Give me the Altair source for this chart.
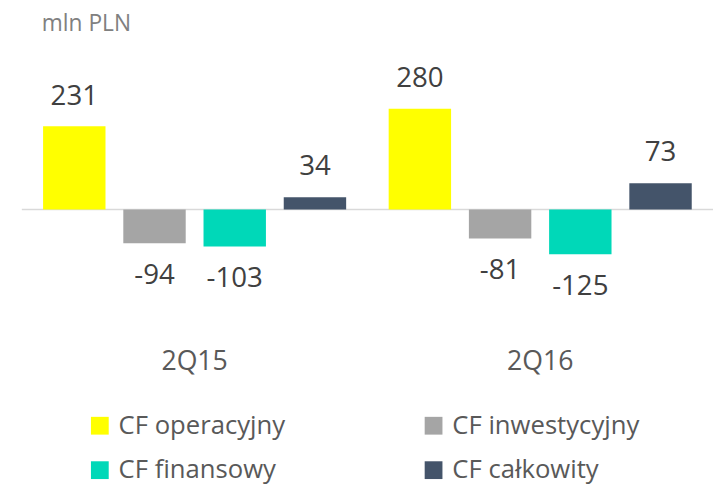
import altair as alt
import pandas as pd

periods = ["2Q15", "2Q15", "2Q15", "2Q15", "2Q16", "2Q16", "2Q16", "2Q16"]
series = ["CF operacyjny", "CF inwestycyjny", "CF finansowy", "CF całkowity"] * 2
values = [231, -94, -103, 34, 280, -81, -125, 73]
labels = ["231", "-94", "-103", "34", "280", "-81", "-125", "73"]

series_order = ["CF operacyjny", "CF inwestycyjny", "CF finansowy", "CF całkowity"]
colors = ["#FFFF00", "#A5A5A5", "#00D8B8", "#44546A"]
baseline = [0]

df = pd.DataFrame({"period": periods, "series": series, "value": values, "label": labels})
base_df = pd.DataFrame({"value": baseline})

FONT = "Open Sans"
ydom = [-305, 409]
W = 700

x = alt.X("period:N", title=None, sort=["2Q15", "2Q16"],
          scale=alt.Scale(paddingInner=0, paddingOuter=0),
          axis=alt.Axis(domain=False, ticks=False, labelAngle=0, labelFontSize=27,
                        labelColor="#595959", labelFont=FONT, labelPadding=30))
xo = alt.XOffset("series:N", sort=series_order,
                 scale=alt.Scale(paddingInner=0.222, paddingOuter=0.265))
y = alt.Y("value:Q", axis=None, scale=alt.Scale(domain=ydom, nice=False, zero=True))

bars = alt.Chart(df).mark_bar().encode(
    x=x, xOffset=xo, y=y,
    color=alt.Color("series:N", sort=series_order,
                    scale=alt.Scale(domain=series_order, range=colors),
                    legend=alt.Legend(
                        title=None, orient="none", legendX=66, legendY=355,
                        direction="horizontal",
                        columns=2, columnPadding=137, rowPadding=19,
                        symbolType="square",
                        symbolSize=324, symbolStrokeWidth=0,
                        labelFontSize=26, labelFont=FONT, labelColor="#595959",
                        labelOffset=6, labelLimit=400)),
)

zero = alt.Chart(base_df).mark_rule(color="#D9D9D9", strokeWidth=1.5).encode(
    y=y, x=alt.value(0), x2=alt.value(W))

pos_labels = alt.Chart(df).transform_filter("datum.value >= 0").mark_text(
    dy=-30, baseline="middle", fontSize=28, font=FONT, color="#404040"
).encode(x=x, xOffset=xo, y=y, text=alt.Text("label:N"))

neg_labels = alt.Chart(df).transform_filter("datum.value < 0").mark_text(
    dy=33, baseline="middle", fontSize=28, font=FONT, color="#404040"
).encode(x=x, xOffset=xo, y=y, text=alt.Text("label:N"))

chart = alt.layer(zero, bars, pos_labels, neg_labels).properties(
    width=W, height=260,
    autosize=alt.AutoSizeParams(type="none"),
    padding={"left": 14, "top": 52, "right": 0, "bottom": 168},
    title=alt.TitleParams("mln PLN", anchor="start", dx=21, offset=27,
                          fontSize=23, font=FONT, color="#808080", fontWeight="normal"),
).configure_view(stroke=None)

chart.save("out.html", embed_options={"renderer": "svg", "actions": False})
